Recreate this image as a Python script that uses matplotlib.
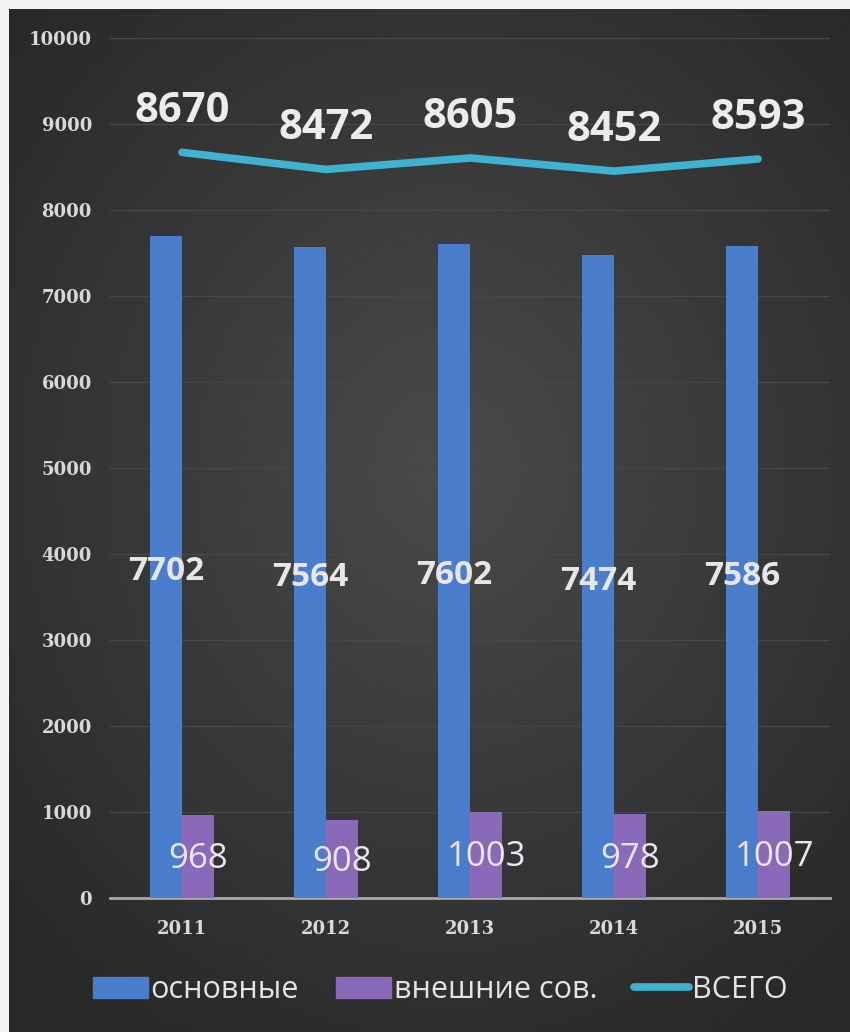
import numpy as np
import matplotlib.pyplot as plt
from matplotlib.patches import Patch
from matplotlib.lines import Line2D

years = ['2011', '2012', '2013', '2014', '2015']
osnovnye = [7702, 7564, 7602, 7474, 7586]
vneshnie = [968, 908, 1003, 978, 1007]
vsego = [8670, 8472, 8605, 8452, 8593]

blue = '#4a7ecc'
purple = '#8a6ab8'
cyan = '#3fb2d2'

plt.rcParams['font.family'] = ['Open Sans', 'DejaVu Sans']

fig = plt.figure(figsize=(8.5, 10.32), dpi=100)
fig.patch.set_facecolor('#f4f4f4')

# dark background with a soft radial glow
bg = fig.add_axes([9/850, 0, 1 - 9/850, 1 - 9/1032])
yy, xx = np.mgrid[0:1:300j, 0:1:300j]
r = np.sqrt(((xx - 0.52) / 0.7) ** 2 + ((yy - 0.45) / 0.65) ** 2)
bg.imshow(0.29 - 0.13 * np.clip(r, 0, 1), cmap='gray', vmin=0, vmax=1,
          aspect='auto', extent=[0, 1, 0, 1])
bg.axis('off')

ax = fig.add_axes([110/850, 134/1032, 720/850, 860/1032])
ax.patch.set_alpha(0)

x = np.arange(len(years))
w = 0.225
ax.bar(x - w/2, osnovnye, w, color=blue, zorder=3)
ax.bar(x + w/2, vneshnie, w, color=purple, zorder=3)
ax.plot(x, vsego, color=cyan, lw=5.5, solid_capstyle='round', zorder=4)

for xi, v in zip(x, osnovnye):
    ax.text(xi - w/2, v/2 - 55, str(v), ha='center', va='center', fontsize=24,
            fontweight='bold', color='#e6e6e6', zorder=5)
for xi, v in zip(x, vneshnie):
    ax.text(xi + w/2, v/2 - 30, str(v), ha='center', va='center', fontsize=25,
            color='#ece6f4', zorder=5)
for xi, v in zip(x, vsego):
    ax.text(xi, v + 470, str(v), ha='center', va='center', fontsize=30,
            fontweight='bold', color='#ececec', zorder=5)

ax.set_xlim(-0.5, 4.5)
ax.set_ylim(0, 10000)
ax.set_yticks(range(0, 10001, 1000))
ax.set_xticks(x)
ax.set_xticklabels(years)
ax.grid(axis='y', color='#474747', lw=1, zorder=0)
for s in ['top', 'right', 'left']:
    ax.spines[s].set_visible(False)
ax.spines['bottom'].set_color('#a8a8a8')
ax.spines['bottom'].set_linewidth(2)
ax.tick_params(length=0, colors='#d8d8d8')
ax.tick_params(axis='y', pad=13)
ax.tick_params(axis='x', pad=16)
for lab in ax.get_xticklabels() + ax.get_yticklabels():
    lab.set_family('DejaVu Serif')
    lab.set_fontweight('bold')
    lab.set_fontsize(13)

handles = [Patch(color=blue), Patch(color=purple),
           Line2D([0], [0], color=cyan, lw=5.5, solid_capstyle='round')]
fig.legend(handles, ['основные', 'внешние сов.', 'ВСЕГО'], loc='center',
           bbox_to_anchor=(440/850, 1 - 990/1032), ncol=3, frameon=False,
           fontsize=22, labelcolor='#e4e4e4', handlelength=1.8,
           handleheight=0.7, handletextpad=0.1, columnspacing=1.2)

fig.savefig('out.png', dpi=100)
